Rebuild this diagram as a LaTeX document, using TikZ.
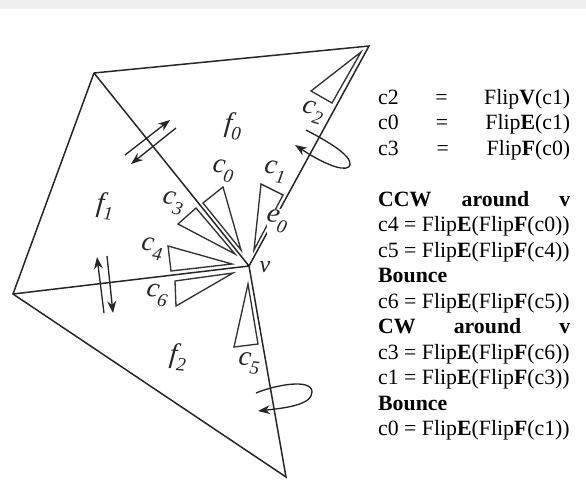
\documentclass[tikz,border=0pt]{standalone}
\usepackage{fontspec}
\setmainfont{Liberation Serif}
\usetikzlibrary{arrows.meta}
\tikzset{
  edgeline/.style={line width=1.5pt,black!85},
  cornerline/.style={line width=1.35pt,black!80},
  flipline/.style={line width=1.35pt,black!85,-{Stealth[length=12pt,width=9pt]}},
  meshlabel/.style={inner sep=0pt,font=\fontsize{28}{28}\selectfont\itshape,black!85},
  rowtext/.style={anchor=base west,inner sep=0pt,font=\fontsize{21.8}{24}\selectfont},
  rowfit/.style={rowtext,text width=192pt}
}
\newcommand{\corner}[3]{\draw[cornerline] #1--#2--#3--cycle;}
\newcommand{\meshlab}[6]{\node[meshlabel,rotate=#5] (#1) at (#2,#3) {#4\raisebox{-.28em}{\fontsize{19}{19}\selectfont #6}};}
\newcommand{\row}[4][rowtext]{\node[#1] (#2) at (378,104+25.5*#3) {#4};}
\begin{document}
\begin{tikzpicture}[x=1pt,y=-1pt]
  \useasboundingbox (0,0) rectangle (586,490);
  \fill[black!6] (0,0) rectangle (586,9);

  % vertices
  \coordinate (vtop) at (369,46);
  \coordinate (vup) at (94,73);
  \coordinate (vleft) at (13,294);
  \coordinate (vbot) at (286,477);
  \coordinate (v) at (249,266);

  % faces
  \draw[edgeline] (vup)--(vtop)--(v)--(vbot)--(vleft)--(vup);
  \draw[edgeline] (vup)--(v)--(vleft);

  % corners
  \corner{(361,52)}{(311,91)}{(332,103)}
  \corner{(241,250)}{(223,187)}{(203,203)}
  \corner{(235,254)}{(196,208)}{(178,224)}
  \corner{(254,250)}{(261,184)}{(283,195)}
  \corner{(232,264)}{(168,246)}{(171,271)}
  \corner{(233,273)}{(175,281)}{(176,306)}
  \corner{(248,284)}{(234,347)}{(258,344)}

  % flips across the edges
  \coordinate (fa1) at (125,155);
  \coordinate (fa2) at (170,120);
  \coordinate (fb1) at (176,128);
  \coordinate (fb2) at (131,164);
  \draw[flipline] (fa1)--(fa2);
  \draw[flipline] (fb1)--(fb2);
  \coordinate (fc1) at (104,313);
  \coordinate (fc2) at (97,257);
  \coordinate (fd1) at (107,256);
  \coordinate (fd2) at (113,313);
  \draw[flipline] (fc1)--(fc2);
  \draw[flipline] (fd1)--(fd2);

  % loops
  \draw[flipline] (306,130) .. controls (325,140) and (352,155) .. (350,165)
    .. controls (348,172) and (330,168) .. (295,145);
  \draw[flipline] (256,393) .. controls (275,385) and (312,378) .. (312,392)
    .. controls (312,405) and (285,408) .. (258,411);

  % labels
  \path[fill=white] (267,209) rectangle (290,234);
  \meshlab{lc0}{223}{171}{c}{-10}{0}
  \meshlab{lc1}{275}{172}{c}{-10}{1}
  \meshlab{lc2}{313}{112}{c}{-18}{2}
  \meshlab{lc3}{173}{203}{c}{-15}{3}
  \meshlab{lc4}{152}{249}{c}{-10}{4}
  \meshlab{lc5}{249}{363}{c}{-8}{5}
  \meshlab{lc6}{157}{295}{c}{-12}{6}
  \meshlab{le0}{277}{221}{e}{-15}{0}
  \meshlab{lf0}{233}{126}{f}{-5}{0}
  \meshlab{lf1}{105}{206}{f}{-5}{1}
  \meshlab{lf2}{178}{357}{f}{-5}{2}
  \node[meshlabel,font=\fontsize{24}{24}\selectfont\itshape] (lv) at (265,267) {v};

  % flip table
  \row[rowfit]{r0}{0}{c2\hfill=\hfill Flip\textbf{V}(c1)}
  \row[rowfit]{r1}{1}{c0\hfill=\hfill Flip\textbf{E}(c1)}
  \row[rowfit]{r2}{2}{c3\hfill=\hfill Flip\textbf{F}(c0)}
  \row[rowfit]{r4}{4}{\textbf{CCW\hfill around\hfill v}}
  \row{r5}{5}{c4 = Flip\textbf{E}(Flip\textbf{F}(c0))}
  \row{r6}{6}{c5 = Flip\textbf{E}(Flip\textbf{F}(c4))}
  \row{r7}{7}{\textbf{Bounce}}
  \row{r8}{8}{c6 = Flip\textbf{E}(Flip\textbf{F}(c5))}
  \row[rowfit]{r9}{9}{\textbf{CW\hfill around\hfill v}}
  \row{r10}{10}{c3 = Flip\textbf{E}(Flip\textbf{F}(c6))}
  \row{r11}{11}{c1 = Flip\textbf{E}(Flip\textbf{F}(c3))}
  \row{r12}{12}{\textbf{Bounce}}
  \row{r13}{13}{c0 = Flip\textbf{E}(Flip\textbf{F}(c1))}
\end{tikzpicture}
\end{document}
